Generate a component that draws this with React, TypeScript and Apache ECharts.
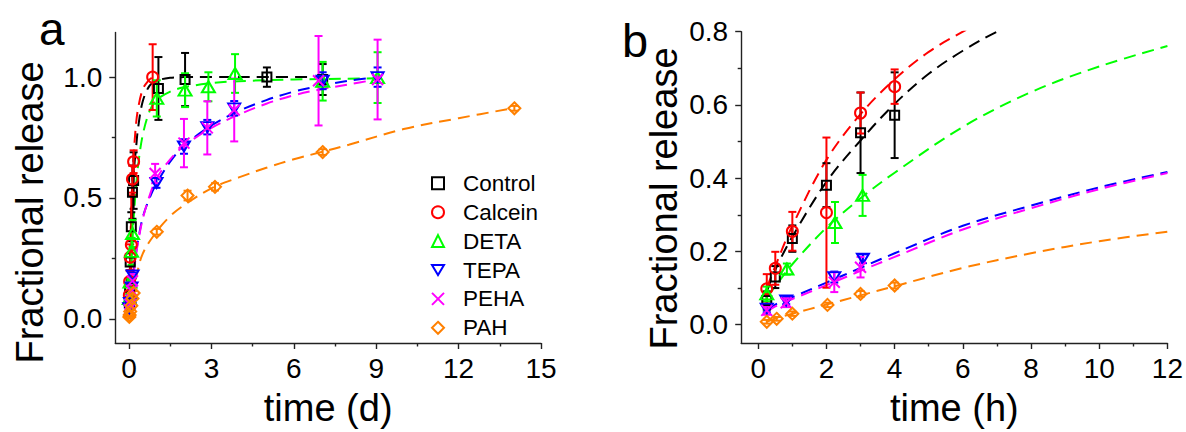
import React, { useEffect, useRef } from "react";
import * as echarts from "echarts";

// ---------- series names ----------
const seriesNames = ["Control", "Calcein", "DETA", "TEPA", "PEHA", "PAH"];

// ---------- panel b (hours): measured points ----------
const controlHoursT = [0.25, 0.5, 1, 2, 3, 4];
const controlHoursV = [0.066, 0.13, 0.235, 0.381, 0.524, 0.572];
const controlHoursE = [0.025, 0.03, 0.036, 0.06, 0.11, 0.117];

const calceinHoursT = [0.25, 0.5, 1, 2, 3, 4];
const calceinHoursV = [0.098, 0.154, 0.255, 0.306, 0.578, 0.65];
const calceinHoursE = [0.04, 0.045, 0.053, 0.205, 0.056, 0.047];

const detaHoursT = [0.25, 0.84, 2.25, 3.06];
const detaHoursV = [0.084, 0.152, 0.279, 0.353];
const detaHoursE = [0.02, 0.015, 0.056, 0.056];

const tepaHoursT = [0.25, 0.82, 2.23, 3.07];
const tepaHoursV = [0.044, 0.066, 0.13, 0.18];
const tepaHoursE = [0.01, 0.01, 0.015, 0.012];

const pehaHoursT = [0.25, 0.82, 2.23, 3.0];
const pehaHoursV = [0.039, 0.06, 0.116, 0.157];
const pehaHoursE = [0.012, 0.012, 0.027, 0.028];

const pahHoursT = [0.25, 0.54, 1.0, 2.03, 3.0, 4.0];
const pahHoursV = [0.008, 0.016, 0.03, 0.054, 0.084, 0.107];
const pahHoursE = [0.005, 0.005, 0.006, 0.006, 0.008, 0.008];

// ---------- panel a (days): later points ----------
const controlDaysT = [1.07, 2.04, 5.02, 7.05];
const controlDaysV = [0.953, 0.99, 1.0, 0.99];
const controlDaysE = [0.13, 0.11, 0.04, 0.064];

const calceinDaysT = [0.86];
const calceinDaysV = [1.0];
const calceinDaysE = [0.136];

const detaDaysT = [1.01, 2.04, 2.89, 3.86, 7.05, 9.05];
const detaDaysV = [0.912, 0.946, 0.96, 1.015, 0.983, 0.998];
const detaDaysE = [0.075, 0.07, 0.06, 0.08, 0.08, 0.105];

const tepaDaysT = [1.0, 2.0, 2.85, 3.83, 7.05, 9.05];
const tepaDaysV = [0.562, 0.713, 0.793, 0.871, 0.985, 1.0];
const tepaDaysE = [0.02, 0.03, 0.03, 0.03, 0.035, 0.04];

const pehaDaysT = [0.95, 2.0, 2.85, 3.83, 6.9, 9.05];
const pehaDaysV = [0.601, 0.727, 0.79, 0.864, 0.985, 0.99];
const pehaDaysE = [0.04, 0.1, 0.11, 0.13, 0.185, 0.165];

const pahDaysT = [1.01, 2.13, 3.13, 7.05, 14.03];
const pahDaysV = [0.36, 0.51, 0.546, 0.69, 0.871];
const pahDaysE = [0.012, 0.02, 0.015, 0.012, 0.01];

// ---------- fitted curves, panel a (days) ----------
const controlFitDaysT = [0.0104, 0.0417, 0.0833, 0.125, 0.167, 0.25, 0.33, 0.5, 0.75, 1, 1.5, 2, 3, 5, 7];
const controlFitDaysV = [0.09, 0.24, 0.39, 0.5, 0.6, 0.7, 0.79, 0.9, 0.965, 0.985, 0.997, 1.0, 1.0, 1.0, 1.0];

const calceinFitDaysT = [0.0104, 0.0417, 0.0833, 0.125, 0.167, 0.25, 0.33, 0.5, 0.7, 0.86];
const calceinFitDaysV = [0.1, 0.27, 0.46, 0.58, 0.67, 0.8, 0.87, 0.95, 0.985, 1.0];

const detaFitDaysT = [0.0104, 0.0417, 0.0833, 0.125, 0.167, 0.25, 0.33, 0.5, 0.75, 1, 1.5, 2, 3, 4, 6, 9];
const detaFitDaysV = [0.075, 0.165, 0.265, 0.345, 0.415, 0.54, 0.635, 0.761, 0.86, 0.905, 0.94, 0.958, 0.975, 0.983, 0.99, 0.995];

const tepaFitDaysT = [0.0104, 0.0417, 0.0833, 0.125, 0.167, 0.25, 0.33, 0.5, 0.75, 1, 1.5, 2, 3, 4, 5, 6, 7, 8, 9];
const tepaFitDaysV = [0.04, 0.075, 0.115, 0.155, 0.195, 0.27, 0.325, 0.42, 0.5, 0.56, 0.65, 0.715, 0.8, 0.86, 0.905, 0.94, 0.965, 0.985, 1.0];

const pehaFitDaysT = [0.0104, 0.0417, 0.0833, 0.125, 0.167, 0.25, 0.33, 0.5, 0.75, 1, 1.5, 2, 3, 4, 5, 6, 7, 8, 9];
const pehaFitDaysV = [0.035, 0.07, 0.108, 0.147, 0.185, 0.26, 0.318, 0.414, 0.51, 0.58, 0.66, 0.715, 0.79, 0.845, 0.89, 0.925, 0.95, 0.97, 0.99];

const pahFitDaysT = [0.0104, 0.0417, 0.0833, 0.125, 0.167, 0.25, 0.5, 1, 1.5, 2, 3, 4, 5, 6, 7, 8, 10, 12, 14];
const pahFitDaysV = [0.008, 0.03, 0.055, 0.08, 0.105, 0.165, 0.27, 0.36, 0.425, 0.47, 0.54, 0.585, 0.625, 0.66, 0.69, 0.72, 0.785, 0.83, 0.872];

// ---------- fitted curves, panel b (hours) ----------
const controlFitHoursT = [0.25, 0.5, 1, 2, 3, 4, 5, 6, 7, 8];
const controlFitHoursV = [0.09, 0.15, 0.24, 0.39, 0.503, 0.603, 0.685, 0.748, 0.8, 0.84];

const calceinFitHoursT = [0.25, 0.5, 1, 2, 3, 4, 5, 6, 7];
const calceinFitHoursV = [0.1, 0.16, 0.27, 0.45, 0.575, 0.67, 0.745, 0.8, 0.85];

const fitHoursT = [0.25, 0.5, 1, 2, 3, 4, 6, 8, 10, 12];
const detaFitHoursV = [0.075, 0.105, 0.165, 0.265, 0.345, 0.415, 0.54, 0.635, 0.705, 0.761];
const tepaFitHoursV = [0.04, 0.055, 0.075, 0.115, 0.155, 0.195, 0.27, 0.325, 0.375, 0.417];
const pehaFitHoursV = [0.035, 0.05, 0.07, 0.108, 0.147, 0.185, 0.26, 0.318, 0.37, 0.414];
const pahFitHoursV = [0.008, 0.017, 0.03, 0.055, 0.08, 0.105, 0.155, 0.195, 0.228, 0.254];

// ---------- tick values ----------
const xTicksA = [0, 3, 6, 9, 12, 15];
const xMinorA = [1.5, 4.5, 7.5, 10.5, 13.5];
const yTicksA = [0, 0.5, 1.0];
const yMinorA = [0.25, 0.75];
const xTicksB = [0, 2, 4, 6, 8, 10, 12];
const xMinorB = [1, 3, 5, 7, 9, 11];
const yTicksB = [0, 0.2, 0.4, 0.6, 0.8];
const yMinorB = [0.1, 0.3, 0.5, 0.7];

const HOURS_PER_DAY = 24;

// ---------- styles ----------
const FONT = "'Liberation Sans', Arial, Helvetica, sans-serif";
const COLORS: Record<string, string> = {
  Control: "#000000",
  Calcein: "#ff0000",
  DETA: "#00ff00",
  TEPA: "#0000ff",
  PEHA: "#ff00ff",
  PAH: "#ff8000",
};
const SYMBOLS: Record<string, { symbol: string; size: any }> = {
  Control: { symbol: "rect", size: 9 },
  Calcein: { symbol: "circle", size: 11 },
  DETA: { symbol: "triangle", size: [13, 11] },
  TEPA: { symbol: "path://M0,0L12,0L6,10Z", size: [12, 10] },
  PEHA: { symbol: "path://M0,0L10,10M10,0L0,10", size: 11 },
  PAH: { symbol: "diamond", size: 12 },
};
const AXIS_COLOR = "#222";

function pairs(t: number[], v: number[]) {
  return t.map((x, i) => [x, v[i]]);
}
function triples(t: number[], v: number[], e: number[]) {
  return t.map((x, i) => [x, v[i], e[i]]);
}

function errSeries(name: string, data: number[][], xi: number, yi: number) {
  const color = COLORS[name];
  return {
    type: "custom",
    name: name + " error",
    xAxisIndex: xi,
    yAxisIndex: yi,
    data,
    encode: { x: 0, y: 1 },
    silent: true,
    z: 3,
    renderItem: (_params: any, api: any) => {
      const x = api.value(0);
      const y = api.value(1);
      const d = api.value(2);
      const top = api.coord([x, y + d]);
      const bot = api.coord([x, y - d]);
      const hw = 4;
      const style = { stroke: color, lineWidth: 2, fill: null };
      return {
        type: "group",
        children: [
          { type: "line", shape: { x1: top[0], y1: top[1], x2: bot[0], y2: bot[1] }, style },
          { type: "line", shape: { x1: top[0] - hw, y1: top[1], x2: top[0] + hw, y2: top[1] }, style },
          { type: "line", shape: { x1: bot[0] - hw, y1: bot[1], x2: bot[0] + hw, y2: bot[1] }, style },
        ],
      };
    },
  };
}

function scatterSeries(name: string, data: number[][], xi: number, yi: number) {
  const s = SYMBOLS[name];
  return {
    type: "scatter",
    name,
    xAxisIndex: xi,
    yAxisIndex: yi,
    data: data.map((d) => [d[0], d[1]]),
    symbol: s.symbol,
    symbolSize: s.size,
    itemStyle: { color: "rgba(0,0,0,0)", borderColor: COLORS[name], borderWidth: 2, opacity: 1 },
    emphasis: { disabled: true },
    silent: true,
    z: 4,
  };
}

function fitSeries(name: string, data: number[][], xi: number, yi: number) {
  return {
    type: "line",
    name: name + " fit",
    xAxisIndex: xi,
    yAxisIndex: yi,
    data,
    showSymbol: false,
    smooth: 0.35,
    clip: true,
    lineStyle: { color: COLORS[name], width: 2, type: [12, 7] },
    silent: true,
    z: 2,
  };
}

function majorAxis(gridIndex: number, min: number, max: number, ticks: number[], isY: boolean, name: string, fmt?: (v: number) => string) {
  return {
    type: "value",
    gridIndex,
    min,
    max,
    position: isY ? "left" : "bottom",
    axisLine: { show: true, onZero: false, lineStyle: { color: AXIS_COLOR, width: 1.4 } },
    axisTick: { show: true, inside: false, length: 6, customValues: ticks, lineStyle: { color: AXIS_COLOR, width: 1.4 } },
    axisLabel: {
      show: true,
      customValues: ticks,
      margin: isY ? 13 : 11,
      fontSize: 28,
      color: "#000",
      fontFamily: FONT,
      formatter: fmt,
    },
    splitLine: { show: false },
    name,
    nameLocation: "middle",
    nameGap: 46,
    nameTextStyle: { fontSize: 38, color: "#000", fontFamily: FONT },
  };
}

function minorAxis(gridIndex: number, min: number, max: number, ticks: number[], isY: boolean) {
  return {
    type: "value",
    gridIndex,
    min,
    max,
    position: isY ? "left" : "bottom",
    axisLine: { show: false, onZero: false },
    axisTick: { show: true, inside: false, length: 3.5, customValues: ticks, lineStyle: { color: AXIS_COLOR, width: 1.4 } },
    axisLabel: { show: false, customValues: ticks },
    splitLine: { show: false },
  };
}

const LEGEND_ICONS: Record<string, string> = {
  Control: "rect",
  Calcein: "circle",
  DETA: "triangle",
  TEPA: "path://M0,0L12,0L6,10Z",
  PEHA: "path://M0,0L10,10M10,0L0,10",
  PAH: "diamond",
};

export default function App() {
  const ref = useRef<HTMLDivElement>(null);
  useEffect(() => {
    if (!ref.current) return;
    const chart = echarts.init(ref.current, null, { renderer: "svg" });

    const toDays = (t: number[]) => t.map((h) => h / HOURS_PER_DAY);

    const pointsA: Record<string, number[][]> = {
      Control: triples([...toDays(controlHoursT), ...controlDaysT], [...controlHoursV, ...controlDaysV], [...controlHoursE, ...controlDaysE]),
      Calcein: triples([...toDays(calceinHoursT), ...calceinDaysT], [...calceinHoursV, ...calceinDaysV], [...calceinHoursE, ...calceinDaysE]),
      DETA: triples([...toDays(detaHoursT), ...detaDaysT], [...detaHoursV, ...detaDaysV], [...detaHoursE, ...detaDaysE]),
      TEPA: triples([...toDays(tepaHoursT), ...tepaDaysT], [...tepaHoursV, ...tepaDaysV], [...tepaHoursE, ...tepaDaysE]),
      PEHA: triples([...toDays(pehaHoursT), ...pehaDaysT], [...pehaHoursV, ...pehaDaysV], [...pehaHoursE, ...pehaDaysE]),
      PAH: triples([...toDays(pahHoursT), ...pahDaysT], [...pahHoursV, ...pahDaysV], [...pahHoursE, ...pahDaysE]),
    };
    const pointsB: Record<string, number[][]> = {
      Control: triples(controlHoursT, controlHoursV, controlHoursE),
      Calcein: triples(calceinHoursT, calceinHoursV, calceinHoursE),
      DETA: triples(detaHoursT, detaHoursV, detaHoursE),
      TEPA: triples(tepaHoursT, tepaHoursV, tepaHoursE),
      PEHA: triples(pehaHoursT, pehaHoursV, pehaHoursE),
      PAH: triples(pahHoursT, pahHoursV, pahHoursE),
    };
    const fitsA: Record<string, number[][]> = {
      Control: pairs(controlFitDaysT, controlFitDaysV),
      Calcein: pairs(calceinFitDaysT, calceinFitDaysV),
      DETA: pairs(detaFitDaysT, detaFitDaysV),
      TEPA: pairs(tepaFitDaysT, tepaFitDaysV),
      PEHA: pairs(pehaFitDaysT, pehaFitDaysV),
      PAH: pairs(pahFitDaysT, pahFitDaysV),
    };
    const fitsB: Record<string, number[][]> = {
      Control: pairs(controlFitHoursT, controlFitHoursV),
      Calcein: pairs(calceinFitHoursT, calceinFitHoursV),
      DETA: pairs(fitHoursT, detaFitHoursV),
      TEPA: pairs(fitHoursT, tepaFitHoursV),
      PEHA: pairs(fitHoursT, pehaFitHoursV),
      PAH: pairs(fitHoursT, pahFitHoursV),
    };

    const series: any[] = [];
    seriesNames.forEach((n) => {
      series.push(fitSeries(n, fitsA[n], 0, 0));
      series.push(fitSeries(n, fitsB[n], 2, 2));
    });
    seriesNames.forEach((n) => {
      series.push(errSeries(n, pointsA[n], 0, 0));
      series.push(scatterSeries(n, pointsA[n], 0, 0));
      series.push(errSeries(n, pointsB[n], 2, 2));
      series.push(scatterSeries(n, pointsB[n], 2, 2));
    });

    const fmt1 = (v: number) => v.toFixed(1);

    const option: any = {
      animation: false,
      backgroundColor: "#ffffff",
      grid: [
        { left: 115.3, top: 32.4, width: 425.7, height: 311.9, containLabel: false },
        { left: 741.2, top: 31.7, width: 426.5, height: 312.7, containLabel: false },
      ],
      xAxis: [
        majorAxis(0, -0.5, 15, xTicksA, false, "time (d)"),
        minorAxis(0, -0.5, 15, xMinorA, false),
        majorAxis(1, -0.5, 12, xTicksB, false, "time (h)"),
        minorAxis(1, -0.5, 12, xMinorB, false),
      ],
      yAxis: [
        majorAxis(0, -0.1, 1.185, yTicksA, true, "", fmt1),
        minorAxis(0, -0.1, 1.185, yMinorA, true),
        majorAxis(1, -0.05, 0.8, yTicksB, true, "", fmt1),
        minorAxis(1, -0.05, 0.8, yMinorB, true),
      ],
      legend: {
        orient: "vertical",
        left: 426,
        top: 166.3,
        itemWidth: 12,
        itemHeight: 12,
        itemGap: 4.9,
        selectedMode: false,
        textStyle: { fontSize: 22.5, color: "#000", fontFamily: FONT, lineHeight: 24, padding: [0, 0, 0, 14] },
        data: seriesNames.map((n) => ({
          name: n,
          icon: LEGEND_ICONS[n],
          itemStyle: { color: "rgba(0,0,0,0)", borderColor: COLORS[n], borderWidth: 2 },
        })),
      },
      graphic: [
        { type: "text", x: 39, y: 29, style: { text: "a", fontSize: 46, fontFamily: FONT, fill: "#000", align: "left", verticalAlign: "middle" } },
        { type: "text", x: 622, y: 40.4, style: { text: "b", fontSize: 47, fontFamily: FONT, fill: "#000", align: "left", verticalAlign: "middle" } },
        { type: "text", x: 29.8, y: 212.5, rotation: Math.PI / 2, style: { text: "Fractional release", fontSize: 38, fontFamily: FONT, fill: "#000", align: "center", verticalAlign: "middle" } },
        { type: "text", x: 663.8, y: 198.5, rotation: Math.PI / 2, style: { text: "Fractional release", fontSize: 38, fontFamily: FONT, fill: "#000", align: "center", verticalAlign: "middle" } },
      ],
      series,
    };
    chart.setOption(option);
    return () => chart.dispose();
  }, []);

  return <div ref={ref} style={{ position: "absolute", left: 0, top: 0, width: 1186, height: 432, background: "#fff" }} />;
}
